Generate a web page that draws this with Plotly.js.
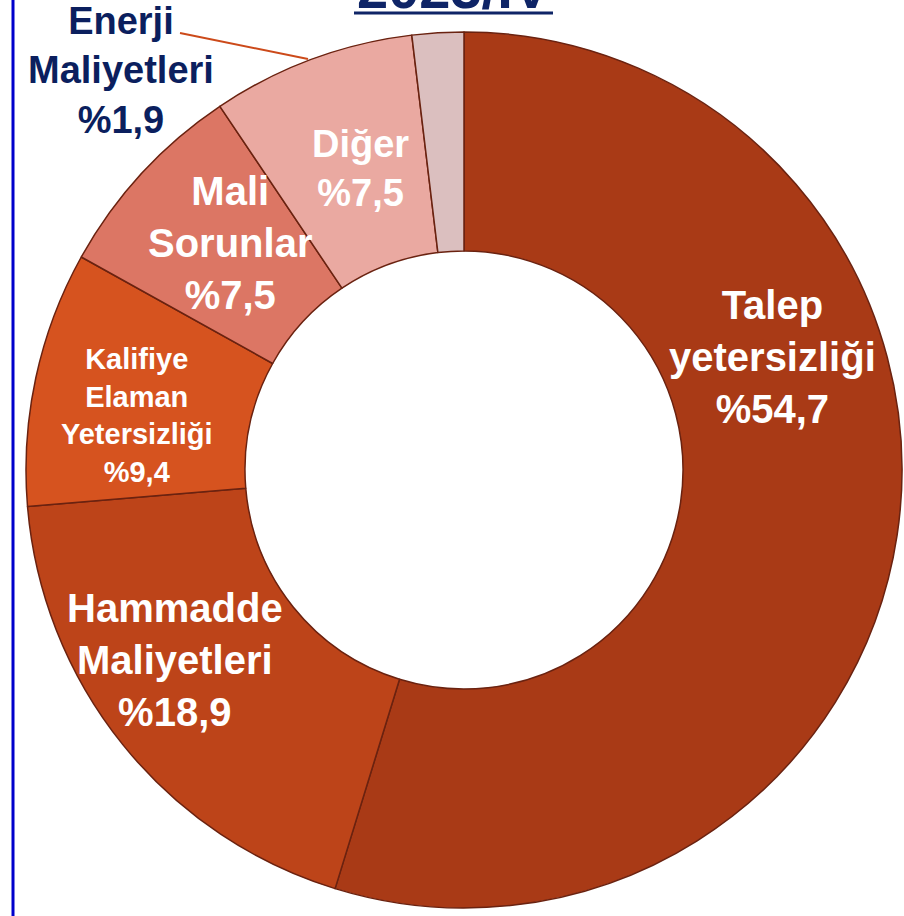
<!DOCTYPE html>
<html>
<head>
<meta charset="utf-8">
<script src="https://cdn.plot.ly/plotly-3.0.1.min.js"></script>
<style>html,body{margin:0;padding:0;background:#fff;}#chart{width:904px;height:916px;}</style>
</head>
<body>
<div id="chart"></div>
<script>
// ---- data ----
const categories = ['Talep yetersizliği', 'Hammadde Maliyetleri', 'Kalifiye Elaman Yetersizliği', 'Mali Sorunlar', 'Diğer', 'Enerji Maliyetleri'];
const values = [54.7, 18.9, 9.4, 7.5, 7.5, 1.9];
const labelLines = [['Talep', 'yetersizliği'], ['Hammadde', 'Maliyetleri'], ['Kalifiye', 'Elaman', 'Yetersizliği'], ['Mali', 'Sorunlar'], ['Diğer'], ['Enerji', 'Maliyetleri']];
const titleText = '2023/IV';

// ---- styles ----
const colors = ['#A93A16', '#BD4419', '#D6531F', '#DC7664', '#EAA9A1', '#DBBFBF'];
const labelColors = ['#FFFFFF', '#FFFFFF', '#FFFFFF', '#FFFFFF', '#FFFFFF', '#0B1F5E'];
const labelSizes = [40, 40, 29, 40, 38, 38];
const labelPos = [[772, 357], [175, 660], [137, 416], [230, 243], [360, 169], [121, 71]];

const W = 904, H = 916;
const px = x => x / W;
const py = y => (H - y) / H;
const cx = 464, cy = 470, R = 438;

function fmt(v) { return '%' + v.toFixed(1).replace('.', ','); }

const trace = {
  type: 'pie',
  labels: categories,
  values: values,
  sort: false,
  direction: 'clockwise',
  rotation: 0,
  hole: 0.5,
  textinfo: 'none',
  hoverinfo: 'label+percent',
  marker: { colors: colors, line: { color: '#6A2210', width: 1.5 } },
  domain: { x: [px(cx - R), px(cx + R)], y: [py(cy + R), py(cy - R)] },
  showlegend: false
};

const annotations = categories.map((c, i) => ({
  xref: 'paper', yref: 'paper',
  x: px(labelPos[i][0]), y: py(labelPos[i][1]),
  xanchor: 'center', yanchor: 'middle',
  showarrow: false,
  align: 'center',
  text: labelLines[i].map(s => '<b>' + s + '</b>').join('<br>') + '<br><b>' + fmt(values[i]) + '</b>',
  font: { family: 'Liberation Sans, Arial, sans-serif', size: labelSizes[i], color: labelColors[i] }
}));

annotations.push({
  xref: 'paper', yref: 'paper',
  x: px(454), y: py(22),
  xanchor: 'center', yanchor: 'bottom',
  showarrow: false,
  text: '<b>' + titleText + '</b>',
  font: { family: 'Liberation Sans, Arial, sans-serif', size: 56, color: '#0F2567' }
});

const shapes = [
  { type: 'line', xref: 'paper', yref: 'paper', x0: px(13), x1: px(13), y0: 0, y1: 1, line: { color: '#0000CC', width: 3 } },
  { type: 'line', xref: 'paper', yref: 'paper', x0: px(354), x1: px(553), y0: py(13), y1: py(13), line: { color: '#0F2567', width: 3 } },
  { type: 'line', xref: 'paper', yref: 'paper', x0: px(180), x1: px(308), y0: py(33), y1: py(59), line: { color: '#CC4A1A', width: 2 } }
];

const layout = {
  width: W, height: H,
  margin: { l: 0, r: 0, t: 0, b: 0 },
  paper_bgcolor: '#FFFFFF',
  plot_bgcolor: '#FFFFFF',
  showlegend: false,
  annotations: annotations,
  shapes: shapes
};

Plotly.newPlot('chart', [trace], layout, { displayModeBar: false, staticPlot: true });
</script>
</body>
</html>
